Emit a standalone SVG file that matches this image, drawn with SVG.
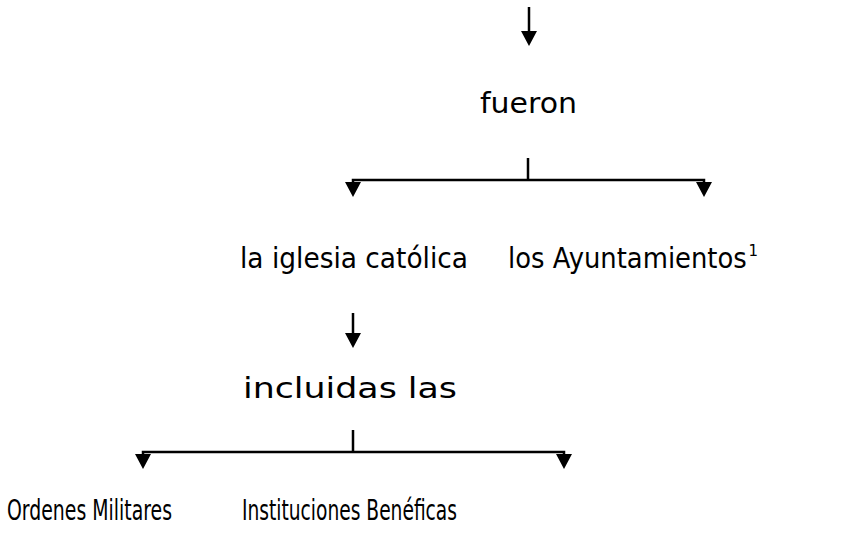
<svg xmlns="http://www.w3.org/2000/svg" width="844" height="534" viewBox="0 0 844 534">
<defs>
<style>
.t{font-family:"DejaVu Sans","Liberation Sans",sans-serif;font-size:28px;fill:#000}
.s{font-family:"DejaVu Sans","Liberation Sans",sans-serif;font-size:15px;fill:#000}
.c{stroke:#000;stroke-width:2.5;fill:none}
.h{fill:#000}
</style>
</defs>
<rect width="844" height="534" fill="#fff"/>
<g id="connectors">
<line class="c" x1="529" y1="7" x2="529" y2="31"/>
<path class="h" d="M521,31 L537,31 L529,46 Z"/>
<line class="c" x1="528" y1="158" x2="528" y2="180"/>
<polyline class="c" points="353,190 353,180 704,180 704,190"/>
<path class="h" d="M345,182 L361,182 L353,197 Z"/>
<path class="h" d="M696,182 L712,182 L704,197 Z"/>
<line class="c" x1="353" y1="313" x2="353" y2="334"/>
<path class="h" d="M345,333 L361,333 L353,348 Z"/>
<line class="c" x1="353" y1="430" x2="353" y2="452"/>
<polyline class="c" points="143,462 143,452 564,452 564,462"/>
<path class="h" d="M135,454 L151,454 L143,469 Z"/>
<path class="h" d="M556,454 L572,454 L564,469 Z"/>
</g>
<g id="n-fueron"><text class="t" x="480" y="113" textLength="97" lengthAdjust="spacingAndGlyphs">fueron</text></g>
<g id="n-iglesia"><text class="t" x="240" y="268" textLength="228" lengthAdjust="spacingAndGlyphs">la iglesia católica</text></g>
<g id="n-ayuntamientos"><g transform="translate(508,268) scale(0.915,1)"><text class="t" x="0" y="0" textLength="261" lengthAdjust="spacingAndGlyphs">los Ayuntamientos</text></g><text class="s" x="748.5" y="256">1</text></g>
<g id="n-incluidas"><text class="t" x="243" y="398" textLength="214" lengthAdjust="spacingAndGlyphs">incluidas las</text></g>
<g id="n-ordenes"><text class="t" x="7" y="520" textLength="165" lengthAdjust="spacingAndGlyphs">Ordenes Militares</text></g>
<g id="n-instituciones"><text class="t" x="242" y="520" textLength="215" lengthAdjust="spacingAndGlyphs">Instituciones Benéficas</text></g>
</svg>
